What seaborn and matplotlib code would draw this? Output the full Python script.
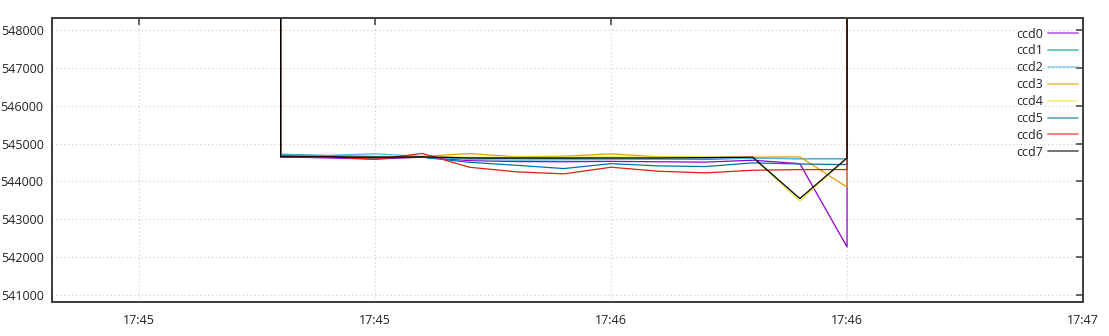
import matplotlib
matplotlib.use("Agg")
import matplotlib.pyplot as plt
import matplotlib.dates as mdates
import seaborn as sns
import pandas as pd

# ---- data ----
times = ["17:45:18", "17:45:18", "17:45:24", "17:45:30", "17:45:36", "17:45:42",
         "17:45:48", "17:45:54", "17:46:00", "17:46:06", "17:46:12", "17:46:18",
         "17:46:24", "17:46:30", "17:46:30"]
OFF = 560000  # off-scale readings at start / end (line leaves the top of the plot)

ccd0 = [OFF, 544650, 544620, 544590, 544640, 544550, 544525, 544520, 544530, 544520, 544510, 544560, 544470, 542270, OFF]
ccd1 = [OFF, 544720, 544680, 544660, 544650, 544620, 544600, 544600, 544590, 544590, 544580, 544620, 544600, 544600, OFF]
ccd2 = [OFF, 544700, 544690, 544730, 544660, 544580, 544560, 544570, 544580, 544590, 544600, 544610, 544600, 544600, OFF]
ccd3 = [OFF, 544680, 544640, 544620, 544660, 544736, 544650, 544665, 544728, 544650, 544640, 544640, 544650, 543850, OFF]
ccd4 = [OFF, 544660, 544650, 544640, 544660, 544640, 544640, 544640, 544650, 544640, 544640, 544640, 543480, 544620, OFF]
ccd5 = [OFF, 544680, 544650, 544620, 544640, 544505, 544427, 544340, 544470, 544410, 544393, 544490, 544460, 544445, OFF]
ccd6 = [OFF, 544650, 544660, 544580, 544740, 544375, 544253, 544200, 544375, 544270, 544226, 544295, 544313, 544313, OFF]
ccd7 = [OFF, 544650, 544650, 544640, 544650, 544620, 544620, 544620, 544620, 544620, 544630, 544640, 543548, 544620, OFF]

series_names = ["ccd0", "ccd1", "ccd2", "ccd3", "ccd4", "ccd5", "ccd6", "ccd7"]
series_vals = [ccd0, ccd1, ccd2, ccd3, ccd4, ccd5, ccd6, ccd7]
colors = ["#9400d3", "#009e73", "#56b4e9", "#e69f00", "#f0e442", "#0072b2", "#e51e10", "#000000"]

yticks = [541000, 542000, 543000, 544000, 545000, 546000, 547000, 548000]

# ---- build long table ----
rows = []
for name, vals in zip(series_names, series_vals):
    for i, (t, v) in enumerate(zip(times, vals)):
        rows.append({"time": pd.Timestamp("2020-01-01 " + t), "value": v, "series": name, "order": i})
df = pd.DataFrame(rows)

sns.set_theme(style="white")
plt.rcParams["font.family"] = ["Open Sans", "DejaVu Sans"]

fig = plt.figure(figsize=(11.09, 3.36), dpi=100)
ax = fig.add_axes([0.0469, 0.1012, 0.9297, 0.8452])

sns.lineplot(data=df, x="time", y="value", hue="series", palette=colors,
             estimator=None, sort=False, units="series", linewidth=0.9, ax=ax, legend=True)

ax.set_ylim(540815, 548317)
ax.set_xlim(pd.Timestamp("2020-01-01 17:44:48.94"), pd.Timestamp("2020-01-01 17:47:00"))
ax.set_yticks(yticks)
ax.xaxis.set_major_locator(mdates.SecondLocator(bysecond=[0, 30]))
ax.xaxis.set_major_formatter(mdates.DateFormatter("%H:%M"))
ax.set_xlabel("")
ax.set_ylabel("")

ax.grid(True, color="#cccccc", linestyle=(0, (1, 2.5)), linewidth=0.8)
ax.set_axisbelow(True)
for s in ax.spines.values():
    s.set_color("#3c3c3c")
    s.set_linewidth(1.4)
ax.tick_params(axis="both", which="major", direction="in", length=5, width=1.1,
               color="#3c3c3c", top=True, right=True, labelsize=9, labelcolor="#222222")
ax.tick_params(axis="y", pad=6)
ax.tick_params(axis="x", pad=9)

leg = ax.legend(loc="upper right", frameon=False, markerfirst=False, fontsize=9,
                handlelength=2.4, handletextpad=0.4, labelspacing=0.31,
                borderaxespad=0.3, bbox_to_anchor=(1.004, 0.997))
for t in leg.get_texts():
    t.set_color("#222222")
for h in leg.legend_handles:
    h.set_alpha(0.55)
    h.set_linewidth(1.4)

fig.savefig("out.png", dpi=100)
